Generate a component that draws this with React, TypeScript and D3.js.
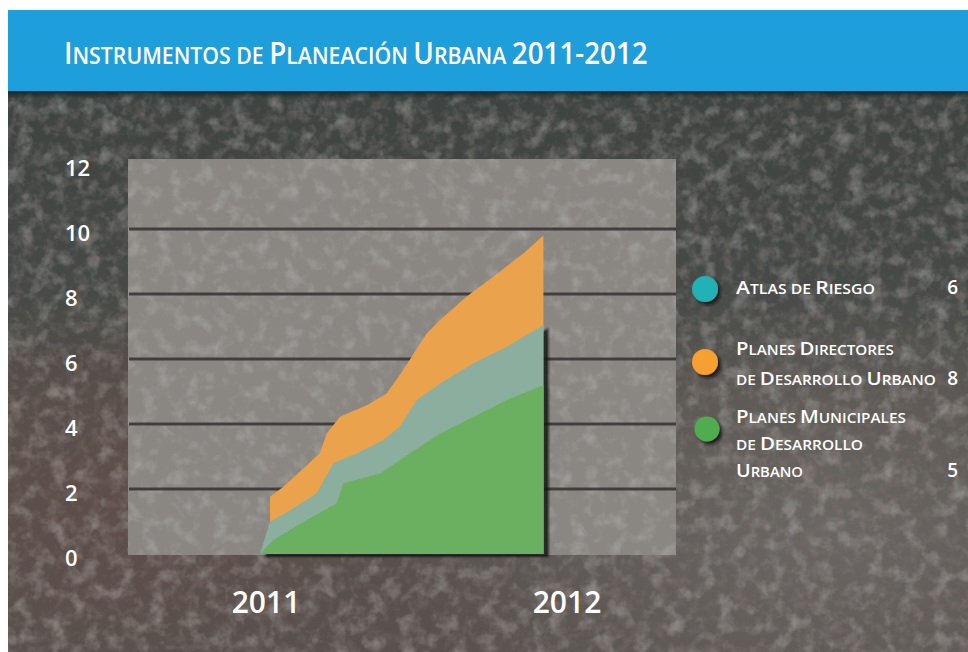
import React, { useLayoutEffect, useRef } from 'react';
import * as d3 from 'd3';

const W = 968;
const H = 652;

// ---- data ----
const yTicks = [0, 2, 4, 6, 8, 10, 12];
const gridValues = [2, 4, 6, 8, 10];
const xTickMonths = [0, 12];
const xTickLabels = ['2011', '2012'];

// months since Jan 2011 / cumulative count
const directoresMonths = [0.16, 0.69, 2.15, 2.42, 2.95, 4.02, 4.81, 5.47, 6.41, 6.94, 8.0, 9.06, 10.26, 11.0, 11.06];
const directoresValues = [1.76, 2.07, 3.1, 3.71, 4.22, 4.58, 4.94, 5.66, 6.79, 7.2, 7.92, 8.53, 9.25, 9.76, 9.8];

const atlasMonths = [-0.24, 0.16, 0.96, 2.02, 2.68, 3.62, 4.68, 5.34, 6.01, 6.94, 8.27, 9.6, 11.06];
const atlasValues = [0, 0.99, 1.35, 1.87, 2.79, 3.1, 3.51, 3.92, 4.74, 5.25, 5.87, 6.38, 7.05];

const municipalesMonths = [-0.24, 0.29, 1.62, 2.82, 3.08, 4.55, 5.74, 6.94, 8.27, 9.6, 11.06];
const municipalesValues = [0, 0.43, 1.05, 1.56, 2.18, 2.48, 3.1, 3.71, 4.22, 4.74, 5.2];

const legendNames = [
  ['Atlas de Riesgo'],
  ['Planes Directores', 'de Desarrollo Urbano'],
  ['Planes Municipales', 'de Desarrollo', 'Urbano'],
];
const legendValues = [6, 8, 5];
const legendColors = ['#22b2b6', '#f6a030', '#4fac4f'];

const titleText = 'Instrumentos de Planeación Urbana 2011-2012';

// ---- layout ----
const legendLineY = [[294], [355, 385], [423, 450, 477]];
const legendLineLen = [[139], [158, 200], [170, 127, 67]];
const legendDotY = [289, 362, 429];
const legendDotX = [705, 705, 707];
const legendDotR = [13, 13, 12.5];

function SmallCaps({ text, big, small }: { text: string; big: number; small: number }) {
  const runs: { big: boolean; s: string }[] = [];
  for (const ch of text) {
    const isBig = (ch !== ch.toLowerCase()) || /[0-9\-]/.test(ch);
    const last = runs[runs.length - 1];
    if (last && last.big === isBig) last.s += ch;
    else runs.push({ big: isBig, s: ch });
  }
  return (
    <>
      {runs.map((r, i) => (
        <tspan key={i} fontSize={r.big ? big : small}>{r.s.toUpperCase()}</tspan>
      ))}
    </>
  );
}

export default function App() {
  const svgRef = useRef<SVGSVGElement | null>(null);

  useLayoutEffect(() => {
    const svg = svgRef.current;
    if (!svg) return;
    const fit = () => {
      svg.querySelectorAll('text[data-fit]').forEach((node) => {
        const el = node as SVGTextElement;
        el.removeAttribute('transform');
        const target = +(el.getAttribute('data-fit') || 0);
        const bb = el.getBBox();
        if (!bb.width) return;
        const k = target / bb.width;
        const x0 = +(el.getAttribute('x') || 0);
        el.setAttribute('transform', `translate(${x0},0) scale(${k},1) translate(${-x0},0)`);
      });
    };
    fit();
    if ((document as any).fonts && (document as any).fonts.ready) {
      (document as any).fonts.ready.then(fit);
    }
  }, []);

  const x = d3.scaleLinear().domain([0, 12]).range([266, 567]);
  const y = d3.scaleLinear().domain([0, 12]).range([554, 164]);

  const area = d3
    .area<[number, number]>()
    .x((d) => x(d[0]))
    .y0(y(0))
    .y1((d) => y(d[1]))
    .curve(d3.curveLinear);

  const zip = (a: number[], b: number[]) => a.map((v, i) => [v, b[i]] as [number, number]);
  const dirPath = area(zip(directoresMonths, directoresValues)) || '';
  const atlasPath = area(zip(atlasMonths, atlasValues)) || '';
  const munPath = area(zip(municipalesMonths, municipalesValues)) || '';

  const panelX0 = 128;
  const panelX1 = 676;
  const panelY0 = y(12) - 5;
  const panelY1 = y(0) + 1;

  const font = "'Open Sans', 'DejaVu Sans', sans-serif";

  return (
    <div style={{ position: 'absolute', left: 0, top: 0 }}>
      <svg ref={svgRef} width={W} height={H} viewBox={`0 0 ${W} ${H}`} style={{ display: 'block' }}>
        <defs>
          <linearGradient id="bgGrad" x1="0" y1="0" x2="0" y2="1">
            <stop offset="0%" stopColor="#3f4441" />
            <stop offset="38%" stopColor="#474a47" />
            <stop offset="55%" stopColor="#54504c" />
            <stop offset="100%" stopColor="#58514e" />
          </linearGradient>
          <radialGradient id="bgLight" cx="0.85" cy="0.78" r="0.45">
            <stop offset="0%" stopColor="#7c7975" stopOpacity="0.55" />
            <stop offset="100%" stopColor="#7c7975" stopOpacity="0" />
          </radialGradient>
          <radialGradient id="bgRed" cx="0.12" cy="0.72" r="0.4">
            <stop offset="0%" stopColor="#6e4a44" stopOpacity="0.35" />
            <stop offset="100%" stopColor="#6e4a44" stopOpacity="0" />
          </radialGradient>
          <linearGradient id="bannerShadow" x1="0" y1="0" x2="0" y2="1">
            <stop offset="0%" stopColor="#0f2426" stopOpacity="0.9" />
            <stop offset="100%" stopColor="#0f2426" stopOpacity="0" />
          </linearGradient>
          <filter id="noiseLight" x="0" y="0" width="100%" height="100%">
            <feTurbulence type="fractalNoise" baseFrequency="0.06" numOctaves="4" seed="7" />
            <feColorMatrix
              type="matrix"
              values="0 0 0 0 0.55  0 0 0 0 0.54  0 0 0 0 0.52  0 0 0 2.6 -1.25"
            />
          </filter>
          <filter id="noiseDark" x="0" y="0" width="100%" height="100%">
            <feTurbulence type="fractalNoise" baseFrequency="0.09" numOctaves="3" seed="19" />
            <feColorMatrix
              type="matrix"
              values="0 0 0 0 0.24  0 0 0 0 0.19  0 0 0 0 0.18  0 0 0 2.6 -1.2"
            />
          </filter>
          <filter id="noisePanel" x="0" y="0" width="100%" height="100%">
            <feTurbulence type="fractalNoise" baseFrequency="0.07" numOctaves="4" seed="3" />
            <feColorMatrix
              type="matrix"
              values="0 0 0 0 0.68  0 0 0 0 0.67  0 0 0 0 0.65  0 0 0 2.2 -1.05"
            />
          </filter>
          <filter id="shadow" x="-10%" y="-10%" width="130%" height="130%">
            <feGaussianBlur in="SourceAlpha" stdDeviation="1.2" />
            <feOffset dx="5" dy="3" result="o" />
            <feFlood floodColor="#141414" floodOpacity="0.85" />
            <feComposite in2="o" operator="in" />
            <feMerge>
              <feMergeNode />
              <feMergeNode in="SourceGraphic" />
            </feMerge>
          </filter>
          <filter id="dotShadow" x="-50%" y="-50%" width="200%" height="200%">
            <feGaussianBlur in="SourceAlpha" stdDeviation="1.5" />
            <feOffset dx="3" dy="3" result="o" />
            <feFlood floodColor="#111" floodOpacity="0.8" />
            <feComposite in2="o" operator="in" />
            <feMerge>
              <feMergeNode />
              <feMergeNode in="SourceGraphic" />
            </feMerge>
          </filter>
          <clipPath id="panelClip">
            <rect x={panelX0} y={panelY0} width={panelX1 - panelX0} height={panelY1 - panelY0} />
          </clipPath>
        </defs>

        <rect x={0} y={0} width={W} height={H} fill="#ffffff" />

        {/* textured background */}
        <rect x={8} y={92} width={W - 8} height={H - 92} fill="url(#bgGrad)" />
        <rect x={8} y={92} width={W - 8} height={H - 92} fill="url(#bgRed)" />
        <rect x={8} y={92} width={W - 8} height={H - 92} fill="url(#bgLight)" />
        <rect x={8} y={92} width={W - 8} height={H - 92} filter="url(#noiseLight)" opacity={0.4} />
        <rect x={8} y={92} width={W - 8} height={H - 92} filter="url(#noiseDark)" opacity={0.4} />

        {/* banner */}
        <rect x={8} y={10} width={W - 8} height={82} fill="#1f9edc" />
        <rect x={8} y={91} width={W - 8} height={8} fill="url(#bannerShadow)" />
        <text x={64} y={64} fill="#ffffff" fontFamily={font} fontWeight={600} data-fit={584}>
          <SmallCaps text={titleText} big={30} small={23} />
        </text>

        {/* plot panel */}
        <rect
          x={panelX0}
          y={panelY0}
          width={panelX1 - panelX0}
          height={panelY1 - panelY0}
          fill="#8a8783"
        />
        <g clipPath="url(#panelClip)">
          <rect
            x={panelX0}
            y={panelY0}
            width={panelX1 - panelX0}
            height={panelY1 - panelY0}
            filter="url(#noisePanel)"
            opacity={0.3}
          />
        </g>
        {gridValues.map((v) => (
          <line
            key={v}
            x1={panelX0 + 1}
            x2={panelX1}
            y1={y(v)}
            y2={y(v)}
            stroke="#3a3634"
            strokeWidth={3}
            opacity={0.9}
          />
        ))}

        {/* areas */}
        <path d={dirPath} fill="#eba24c" />
        <g filter="url(#shadow)">
          <path d={atlasPath} fill="#8cae9f" />
          <path d={munPath} fill="#6bb061" />
        </g>

        {/* y axis labels */}
        {yTicks.map((v) => (
          <text
            key={v}
            x={65}
            y={y(v) + 12}
            fill="#ffffff"
            fontFamily={font}
            fontWeight={600}
            fontSize={22}
          >
            {v}
          </text>
        ))}

        {/* x axis labels */}
        {xTickMonths.map((m, i) => (
          <text
            key={m}
            x={x(m)}
            y={613}
            textAnchor="middle"
            fill="#ffffff"
            fontFamily={font}
            fontWeight={600}
            fontSize={30}
          >
            {xTickLabels[i]}
          </text>
        ))}

        {/* legend */}
        {legendNames.map((lines, i) => (
          <g key={i}>
            <circle
              cx={legendDotX[i]}
              cy={legendDotY[i]}
              r={legendDotR[i]}
              fill={legendColors[i]}
              filter="url(#dotShadow)"
            />
            {lines.map((ln, j) => (
              <text
                key={j}
                x={736}
                y={legendLineY[i][j]}
                fill="#ffffff"
                fontFamily={font}
                fontWeight={600}
                data-fit={legendLineLen[i][j]}
              >
                <SmallCaps text={ln} big={18} small={13.5} />
              </text>
            ))}
            <text
              x={958}
              y={legendLineY[i][lines.length - 1]}
              textAnchor="end"
              fill="#ffffff"
              fontFamily={font}
              fontWeight={600}
              fontSize={19}
            >
              {legendValues[i]}
            </text>
          </g>
        ))}
      </svg>
    </div>
  );
}
